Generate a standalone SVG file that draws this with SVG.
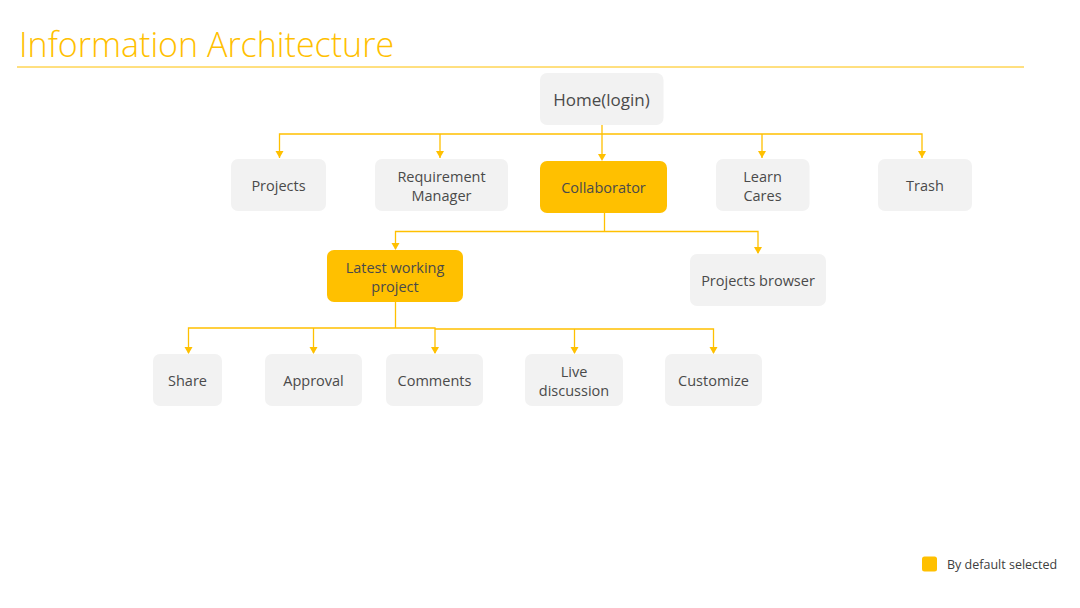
<svg xmlns="http://www.w3.org/2000/svg" width="1080" height="608" viewBox="0 0 1080 608">
<style>
.box{fill:#F2F2F2}
.sel{fill:#FFC000}
.lbl{font-family:"Open Sans","Noto Sans","Liberation Sans",sans-serif;font-size:14.5px;fill:#4a4a4a;text-anchor:middle}
.conn{fill:none;stroke:#FFC000;stroke-width:1.3}
.ah{fill:#FFC000}
</style>
<rect width="1080" height="608" fill="#FFFFFF"/>
<g id="title">
<text x="19" y="57" font-family="'Open Sans','Noto Sans','Liberation Sans',sans-serif" font-weight="300" font-size="34" fill="#FFC000">Information Architecture</text>
<line x1="17" y1="67" x2="1024" y2="67" stroke="#FFC000" stroke-width="1"/>
</g>
<g id="connectors">
<path class="conn" d="M602,125 V158"/>
<path class="conn" d="M279.5,158 V134 H762 V158 M762,134 H922 V158 M440,134 V158"/>
<path class="conn" d="M604.5,213 V231.5 H395.5 V249 M604.5,231.5 H758 V253"/>
<path class="conn" d="M395.5,302 V328 H188.5 V353 M313.5,328 V353 M395.5,328 H435 V353 M435,329 H713.5 V353 M574.5,329 V353"/>
<g class="ah">
<path d="M275.5,151 h8 l-4,7 z"/>
<path d="M436,151 h8 l-4,7 z"/>
<path d="M598,154 h8 l-4,7 z"/>
<path d="M758,151 h8 l-4,7 z"/>
<path d="M918,151 h8 l-4,7 z"/>
<path d="M391.5,243 h8 l-4,7 z"/>
<path d="M754,247 h8 l-4,7 z"/>
<path d="M184.5,347 h8 l-4,7 z"/>
<path d="M309.5,347 h8 l-4,7 z"/>
<path d="M431,347 h8 l-4,7 z"/>
<path d="M570.5,347 h8 l-4,7 z"/>
<path d="M709.5,347 h8 l-4,7 z"/>
</g>
</g>
<g id="home"><rect class="box" x="540" y="73" width="123.5" height="52" rx="7"/><text class="lbl" x="601.5" y="106" style="font-size:17px">Home(login)</text></g>
<g id="projects"><rect class="box" x="231" y="159" width="95" height="52" rx="7"/><text class="lbl" x="278.5" y="190.5">Projects</text></g>
<g id="requirement-manager"><rect class="box" x="375" y="159" width="133" height="52" rx="7"/><text class="lbl" x="441.5" y="181.5">Requirement</text><text class="lbl" x="441.5" y="200.5">Manager</text></g>
<g id="collaborator"><rect class="sel" x="540" y="161" width="127" height="52" rx="7"/><text class="lbl" x="603.5" y="192.5">Collaborator</text></g>
<g id="learn-cares"><rect class="box" x="716" y="159" width="93.5" height="52" rx="7"/><text class="lbl" x="762.5" y="181.5">Learn</text><text class="lbl" x="762.5" y="200.5">Cares</text></g>
<g id="trash"><rect class="box" x="878" y="159" width="94" height="52" rx="7"/><text class="lbl" x="925" y="190.5">Trash</text></g>
<g id="latest-working-project"><rect class="sel" x="327" y="250" width="136" height="52" rx="7"/><text class="lbl" x="395" y="272.5">Latest working</text><text class="lbl" x="395" y="291.5">project</text></g>
<g id="projects-browser"><rect class="box" x="690" y="254" width="136" height="52" rx="7"/><text class="lbl" x="758" y="285.5">Projects browser</text></g>
<g id="share"><rect class="box" x="153" y="354" width="69" height="52" rx="7"/><text class="lbl" x="187.5" y="385.5">Share</text></g>
<g id="approval"><rect class="box" x="265" y="354" width="97" height="52" rx="7"/><text class="lbl" x="313.5" y="385.5">Approval</text></g>
<g id="comments"><rect class="box" x="386" y="354" width="97" height="52" rx="7"/><text class="lbl" x="434.5" y="385.5">Comments</text></g>
<g id="live-discussion"><rect class="box" x="525" y="354" width="98" height="52" rx="7"/><text class="lbl" x="574" y="376.5">Live</text><text class="lbl" x="574" y="395.5">discussion</text></g>
<g id="customize"><rect class="box" x="665" y="354" width="97" height="52" rx="7"/><text class="lbl" x="713.5" y="385.5">Customize</text></g>
<g id="legend"><rect class="sel" x="922" y="556.5" width="15" height="15" rx="2.5"/><text x="947" y="569" font-family="'Open Sans','Noto Sans','Liberation Sans',sans-serif" font-size="12.5" fill="#404040">By default selected</text></g>
</svg>
